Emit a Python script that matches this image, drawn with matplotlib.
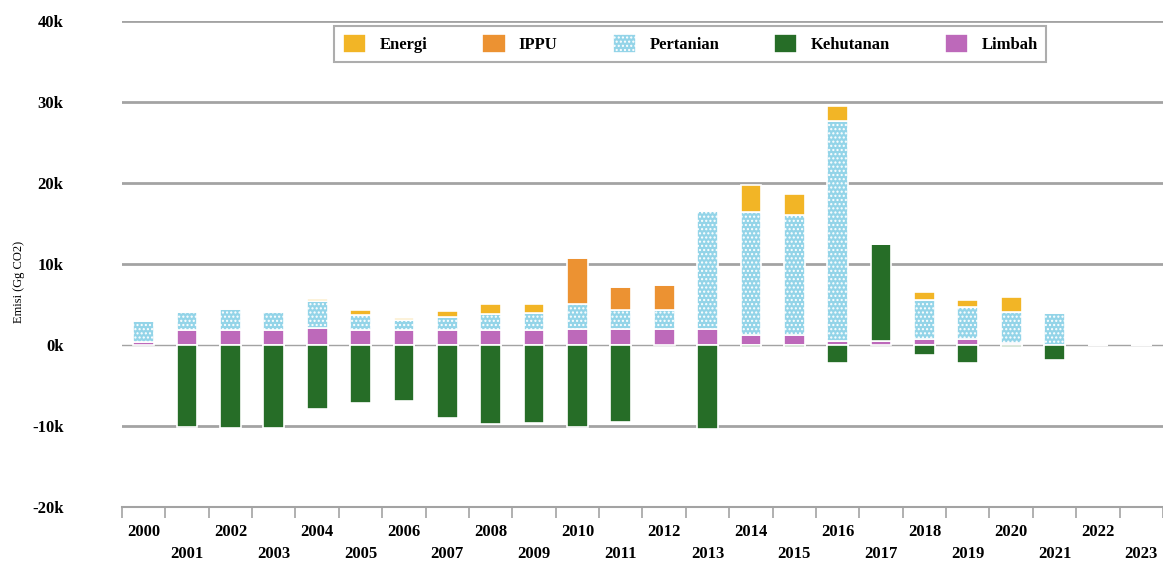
import matplotlib.pyplot as plt
from matplotlib.ticker import FuncFormatter, FixedLocator
import numpy as np

# data (Gg CO2)
years = list(range(2000, 2024))
energi = [0, 0, 0, 0, 300, 600, 200, 700, 1200, 1100, 0, 0, 0,
          0, 3400, 2600, 1800, 0, 1000, 900, 1800, 0, 0, 0]
ippu = [0, 0, 0, 0, 0, 0, 0, 0, 0, 0, 5800, 2800, 3100,
        0, 0, 0, 0, 0, 0, 0, 0, 0, 0, 0]
pertanian = [2500, 2300, 2600, 2300, 3300, 1900, 1300, 1700, 2000, 2100, 3000, 2300, 2300,
             14500, 15200, 14800, 27200, 0, 4800, 4000, 3800, 4000, 0, 0]
kehutanan = [0, -10100, -10200, -10300, -7900, -7200, -6900, -9000, -9700, -9600, -10100, -9500, 0,
             -10400, -200, -300, -2200, 12000, -1200, -2200, -300, -1900, 0, 0]
limbah = [400, 1800, 1800, 1800, 2100, 1800, 1800, 1800, 1800, 1800, 2000, 2000, 2000,
          2000, 1200, 1200, 500, 500, 800, 700, 300, 0, 0, 0]

series = [
    ('Limbah', limbah, '#bd69ba', None),
    ('Pertanian', pertanian, '#93d4e8', '....'),
    ('Kehutanan', kehutanan, '#266d27', None),
    ('IPPU', ippu, '#ec9232', None),
    ('Energi', energi, '#f2b526', None),
]

plt.rcParams['font.family'] = ['Liberation Serif', 'DejaVu Serif']

fig = plt.figure(figsize=(11.63, 5.63), dpi=100)
ax = fig.add_axes([0.1049, 0.0995, 0.8951, 0.8632])

x = np.arange(len(years))
pos_bottom = np.zeros(len(years))
neg_bottom = np.zeros(len(years))
handles = {}
for name, vals, col, hatch in series:
    v = np.array(vals, dtype=float)
    bottom = np.where(v >= 0, pos_bottom, neg_bottom)
    b = ax.bar(x, v, width=0.48, bottom=bottom, color=col, edgecolor='white',
               linewidth=1.2, hatch=hatch, zorder=3)
    handles[name] = b
    pos_bottom += np.where(v > 0, v, 0)
    neg_bottom += np.where(v < 0, v, 0)

ax.set_xlim(-0.5, len(years) - 0.5)
ax.set_ylim(-20000, 40000)

# grid
for yv in [-10000, 0, 10000, 20000, 30000, 40000]:
    lw = 1.0 if yv == 0 else 2.0
    ax.axhline(yv, color='#a3a3a3', lw=lw, zorder=1)

ax.set_yticks([-20000, -10000, 0, 10000, 20000, 30000, 40000])
ax.yaxis.set_major_formatter(FuncFormatter(lambda v, p: f'{int(v / 1000)}k'))
ax.tick_params(axis='y', length=0, pad=42, labelsize=12)
for t in ax.get_yticklabels():
    t.set_fontweight('bold')

ax.set_xticks(x)
ax.set_xticklabels([str(y) if i % 2 == 0 else '\n' + str(y) for i, y in enumerate(years)],
                   fontsize=12, fontweight='bold')
for t in ax.get_xticklabels():
    t.set_linespacing(1.55)
ax.tick_params(axis='x', length=0, pad=12)
ax.xaxis.set_minor_locator(FixedLocator(np.arange(-0.5, len(years), 1)))
ax.tick_params(axis='x', which='minor', length=8, color='#a3a3a3', width=1.2)

for s in ['top', 'right', 'left']:
    ax.spines[s].set_visible(False)
ax.spines['bottom'].set_color('#a3a3a3')
ax.spines['bottom'].set_linewidth(1.5)

fig.text(0.016, 0.50, 'Emisi (Gg CO2)', rotation=90, va='center', ha='center', fontsize=9)

order = ['Energi', 'IPPU', 'Pertanian', 'Kehutanan', 'Limbah']
leg = ax.legend([handles[n] for n in order], order, ncol=5, loc='center',
                bbox_to_anchor=(0.546, 0.953), fontsize=12, frameon=True, fancybox=False,
                edgecolor='#999999', handlelength=1.4, handleheight=1.4,
                columnspacing=3.3, borderpad=0.5)
leg.get_frame().set_linewidth(1.5)
for t in leg.get_texts():
    t.set_fontweight('bold')

fig.savefig('out.png', dpi=100)
